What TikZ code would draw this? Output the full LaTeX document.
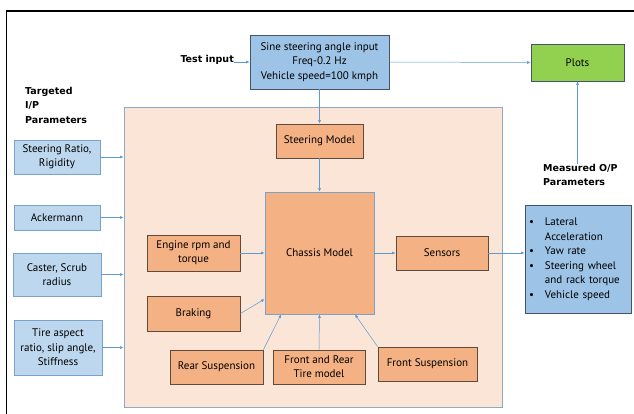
\documentclass[tikz,border=0pt]{standalone}
\usepackage{fontspec}
\setmainfont{PT Sans}
\newfontfamily\labelfont{DejaVu Sans}
\usetikzlibrary{arrows.meta}
\definecolor{inblue}{HTML}{BDD7EE}
\definecolor{inedge}{HTML}{7AA3CC}
\definecolor{midblue}{HTML}{9DC3E6}
\definecolor{darkedge}{HTML}{44546A}
\definecolor{plotgreen}{HTML}{92D050}
\definecolor{peach}{HTML}{FBE5D6}
\definecolor{panedge}{HTML}{8EA9C8}
\definecolor{orangebox}{HTML}{F4B183}
\definecolor{brownedge}{HTML}{5E4A3E}
\definecolor{arrowblue}{HTML}{5B9BD5}
\begin{document}
\begin{tikzpicture}[x=1pt,y=-1pt,%
% common options for blocks:
inblock/.style = {draw=inedge, fill=inblue, line width=0.9pt, align=center,
            inner sep=0, font=\fontsize{11}{14.5}\selectfont},
block/.style = {draw=brownedge, fill=orangebox, line width=0.9pt, align=center,
            inner sep=0, font=\fontsize{11}{14}\selectfont},
% bold labels:
lbl/.style = {align=left, inner sep=0, font=\labelfont\bfseries\fontsize{9.5}{14.5}\selectfont},
% connectors:
arr/.style = {draw=arrowblue, line width=0.5pt, -{Latex[length=3.5pt,width=3pt]}}]
\useasboundingbox (0,0) rectangle (634,414);
\draw[line width=1.6pt] (634,11) -- (6.5,11) -- (6.5,414);
\node[draw=panedge, fill=peach, line width=0.9pt, minimum width=378, minimum height=300] (panel) at (313,257) {};
\node[draw=darkedge, fill=midblue, line width=0.9pt, align=center, inner sep=0,
      minimum width=139, minimum height=54, font=\fontsize{11}{14.5}\selectfont] (sine) at (319.5,62)
      {Sine steering angle input\\Freq-0.2 Hz\\Vehicle speed=100 kmph};
\node[draw=darkedge, fill=plotgreen, line width=0.9pt, minimum width=93, minimum height=37,
      inner sep=0, font=\fontsize{11}{14}\selectfont] (plots) at (577.5,62.5) {Plots};
\node[lbl, anchor=east] (testin) at (234,60) {Test input};
\node[lbl, anchor=north west] (target) at (25,87) {Targeted\\I/P\\Parameters};
\node[lbl, anchor=north west] (measured) at (543,164) {Measured O/P\\Parameters};
% inputs on the left:
\node[inblock, minimum width=86, minimum height=34] (in1) at (57,157) {Steering Ratio,\\Rigidity};
\node[inblock, minimum width=86, minimum height=25] (in2) at (57,217.5) {Ackermann};
\node[inblock, minimum width=88, minimum height=43] (in3) at (57,274.5) {Caster, Scrub\\radius};
\node[inblock, minimum width=88, minimum height=55] (in4) at (58,347.5) {Tire aspect\\ratio, slip angle,\\Stiffness};
% blocks inside the panel:
\node[block, minimum width=87, minimum height=34] (steer) at (319.5,141) {Steering Model};
\node[block, draw=inedge, minimum width=109, minimum height=122] (chassis) at (319.5,253) {Chassis Model};
\node[block, minimum width=93, minimum height=36] (engine) at (193.5,253) {Engine rpm and\\torque};
\node[block, minimum width=93, minimum height=35] (braking) at (193.5,313.5) {Braking};
\node[block, minimum width=93, minimum height=34] (rear) at (216.5,367) {Rear Suspension};
\node[block, minimum width=92, minimum height=34] (tire) at (319,367) {Front and Rear\\Tire model};
\node[block, minimum width=99, minimum height=34] (front) at (427.5,364) {Front Suspension};
\node[block, minimum width=92, minimum height=34] (sensors) at (442,253) {Sensors};
\node[draw=darkedge, fill=midblue, line width=0.9pt, minimum width=106, minimum height=108,
      text width=98, align=left, inner sep=0, font=\fontsize{11}{14.5}\selectfont] (outbox) at (578,259)
      {\begin{tabular}{@{}l@{\hspace{11pt}}l@{}}
      \textbullet & Lateral\\ & Acceleration\\
      \textbullet & Yaw rate\\
      \textbullet & Steering wheel\\ & and rack torque\\
      \textbullet & Vehicle speed
      \end{tabular}};
% connectors:
\draw[arr] (testin.east |- sine.west) -- (sine.west);
\draw[arr] (sine.east) -- (plots.west);
\draw[arr] (sine.south) -- (steer.north);
\draw[arr] (steer.south) -- (chassis.north);
\draw[arr] (in1.east) -- (in1.east -| panel.west);
\draw[arr] (in2.east) -- (in2.east -| panel.west);
\draw[arr] (in3.east) -- (in3.east -| panel.west);
\draw[arr] (in4.east) -- (in4.east -| panel.west);
\draw[arr] (engine.east) -- (chassis.west);
\draw[arr] (braking.east) -- (chassis.220);
\draw[arr] (rear.north east) -- (chassis.238);
\draw[arr] (tire.north) -- (chassis.south);
\draw[arr] (front.north west) -- (chassis.300);
\draw[arr] (chassis.east) -- (sensors.west);
\draw[arr] (sensors.east) -- (sensors.east -| outbox.west);
\draw[arr] (plots.south |- measured.north) -- (plots.south);
\end{tikzpicture}
\end{document}
